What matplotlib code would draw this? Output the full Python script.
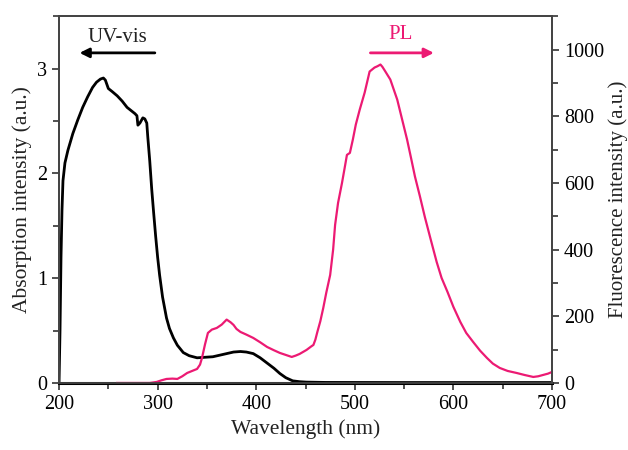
import numpy as np
import matplotlib.pyplot as plt
from matplotlib.ticker import MultipleLocator

plt.rcParams['font.family'] = ['Liberation Serif', 'DejaVu Serif']

# UV-vis absorption (left axis)
uv_wl = [200, 201, 202, 203, 204, 206, 209, 214, 219, 224, 229, 234, 238, 242, 245, 247,
         250, 254, 259, 264, 269, 273, 277, 279, 280, 282, 285, 287, 289, 290, 292, 294,
         296, 298, 300, 302, 305, 309, 312, 316, 320, 326, 332, 340, 348, 356, 363, 370,
         377, 384, 390, 397, 404, 411, 418, 424, 430, 437, 444, 451, 470, 550, 620, 700]
uv_abs = [0.0, 0.5, 1.2, 1.65, 1.93, 2.1, 2.22, 2.38, 2.51, 2.63, 2.73, 2.82, 2.87, 2.9,
          2.91, 2.89, 2.81, 2.78, 2.74, 2.69, 2.63, 2.6, 2.57, 2.55, 2.46, 2.48, 2.53, 2.52,
          2.48, 2.35, 2.12, 1.85, 1.62, 1.40, 1.2, 1.03, 0.82, 0.62, 0.52, 0.43, 0.36, 0.29,
          0.26, 0.24, 0.245, 0.25, 0.265, 0.28, 0.295, 0.30, 0.295, 0.28, 0.24, 0.19, 0.14,
          0.09, 0.05, 0.02, 0.012, 0.008, 0.005, 0.004, 0.004, 0.004]

# photoluminescence (right axis)
pl_wl = [259, 280, 292, 299, 304, 309, 315, 320, 325, 330, 335, 340, 343, 345, 348, 351,
         355, 360, 365, 370, 374, 377, 380, 384, 390, 397, 404, 411, 418, 424, 430, 436,
         440, 444, 451, 456, 458, 460, 462, 465, 468, 471, 475, 478, 480, 483, 487, 490,
         492, 495, 498, 501, 505, 510, 515, 520, 523, 526, 528, 531, 536, 543, 548, 553,
         557, 561, 566, 571, 577, 583, 588, 594, 600, 607, 613, 620, 627, 634, 640, 647,
         655, 664, 672, 681, 686, 691, 696, 700]
pl_int = [0, 0, 0, 3, 8, 12, 13, 12, 20, 30, 36, 42, 55, 75, 115, 150,
          160, 165, 175, 190, 182, 174, 162, 153, 145, 135, 122, 108, 98, 90, 84, 78,
          82, 87, 99, 110, 114, 130, 153, 185, 225, 270, 324, 400, 474, 540, 600, 650,
          684, 690, 730, 775, 820, 871, 934, 946, 950, 955, 948, 934, 910, 850, 790, 730,
          675, 619, 560, 498, 430, 363, 315, 273, 228, 183, 150, 123, 97, 75, 58, 45,
          36, 30, 24, 18, 20, 24, 28, 33]

pink = '#EC1A73'

fig, ax = plt.subplots(figsize=(6.28, 4.5), dpi=100)
fig.subplots_adjust(left=0.094, right=0.879, top=0.964, bottom=0.149)
ax2 = ax.twinx()

ax.plot(uv_wl, uv_abs, color='black', lw=2.0)
ax2.plot(pl_wl, pl_int, color=pink, lw=1.6)

ax.set_xlim(200, 700)
ax.set_ylim(0, 3.5)
ax2.set_ylim(0, 1100)

ax.xaxis.set_major_locator(MultipleLocator(100))
ax.xaxis.set_minor_locator(MultipleLocator(50))
ax.yaxis.set_major_locator(MultipleLocator(1))
ax.yaxis.set_minor_locator(MultipleLocator(0.5))
ax2.yaxis.set_major_locator(MultipleLocator(200))
ax2.yaxis.set_minor_locator(MultipleLocator(100))

for a in (ax, ax2):
    a.tick_params(which='both', direction='out', labelsize=14.5, color='#333333', width=1.2)
    a.tick_params(which='major', length=5)
    a.tick_params(which='minor', length=4)
    for s in a.spines.values():
        s.set_color('#444444')
        s.set_linewidth(1.3)
ax.spines['bottom'].set_linewidth(2.2)
ax.spines['bottom'].set_color('black')

ax.set_xlabel('Wavelength (nm)', fontsize=15.5, color='#222222', labelpad=4)
ax.set_ylabel('Absorption intensity (a.u.)', fontsize=15.5, color='#222222', labelpad=4)
ax2.set_ylabel('Fluorescence intensity (a.u.)', fontsize=15, color='#222222', labelpad=3)

ax.annotate('', xy=(218, 3.15), xytext=(300, 3.15),
            arrowprops=dict(arrowstyle='-|>', color='black', lw=2, mutation_scale=14))
ax.text(259, 3.3, 'UV-vis', ha='center', va='center', fontsize=15, color='#222222')
ax.annotate('', xy=(583, 3.15), xytext=(513, 3.15),
            arrowprops=dict(arrowstyle='-|>', color=pink, lw=2, mutation_scale=14))
ax.text(546, 3.33, 'PL', ha='center', va='center', fontsize=15, color=pink)

fig.savefig('out.png', dpi=100)
